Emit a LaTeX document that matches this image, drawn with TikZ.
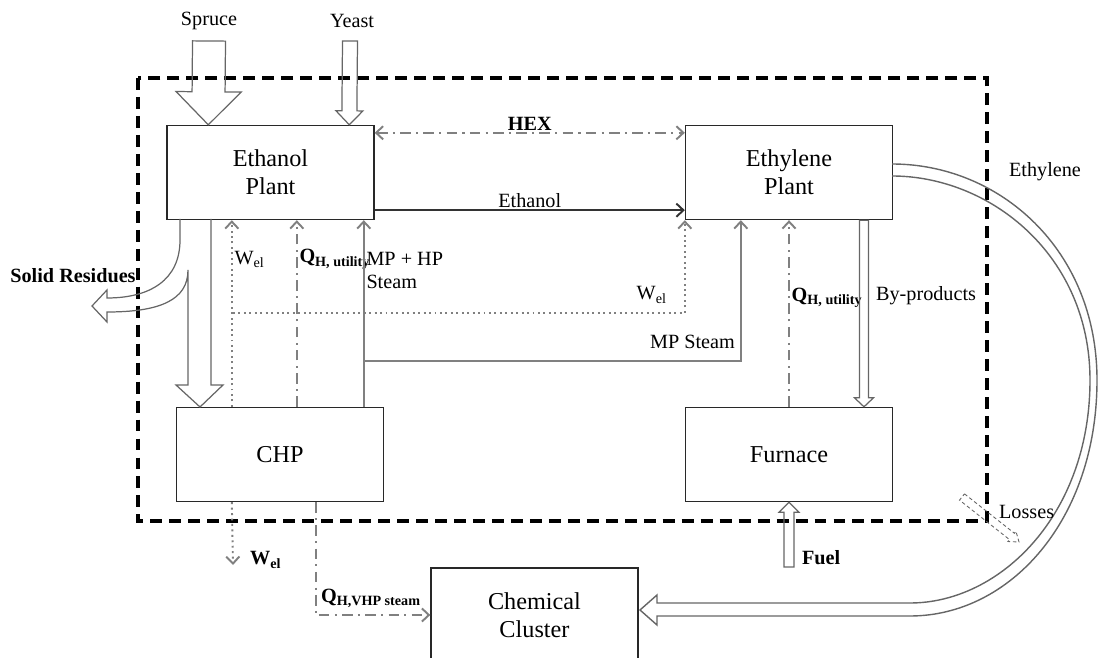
\documentclass[tikz,border=0pt]{standalone}
\usepackage{fontspec}
\setmainfont{Liberation Serif}
\usetikzlibrary{arrows.meta,calc,positioning}
\definecolor{flowgray}{RGB}{128,128,128}
\definecolor{boxline}{RGB}{40,40,40}

% outlined block arrow: [opts]{from}{to}{shaft half width}{head half width}{head length}
\newcommand{\fatarrow}[6][]{%
  \coordinate (fa) at (#2);
  \coordinate (fb) at (#3);
  \coordinate (fh) at ($(fb)!#6!(fa)$);
  \draw[fat,#1] ($(fa)!#4!90:(fb)$) -- ($(fh)!#4!90:(fb)$) -- ($(fh)!#5!90:(fb)$) -- (fb)
    -- ($(fh)!#5!-90:(fb)$) -- ($(fh)!#4!-90:(fb)$) -- ($(fa)!#4!-90:(fb)$) -- cycle;
}

\begin{document}
\begin{tikzpicture}[x=0.02cm,y=-0.02cm,
  >={Straight Barb[length=4pt,width=7.5pt]},
  unit/.style={draw=boxline,line width=0.8pt,minimum width=4.14cm,minimum height=1.88cm,align=center,font=\fontsize{13.8}{16}\selectfont},
  lbl/.style={inner sep=1pt,text=black,font=\fontsize{11.5}{13.5}\selectfont},
  wline/.style={flowgray,line width=1.1pt,dotted},
  qline/.style={flowgray,line width=1.1pt,dash pattern=on 6pt off 3pt on 1.2pt off 3pt},
  sline/.style={flowgray,line width=1.1pt},
  fat/.style={draw=black!60,line width=0.7pt}]
\useasboundingbox (0,0) rectangle (1099,658);

% system boundary
\draw[line width=2pt,dash pattern=on 6.8pt off 4pt] (138,78) rectangle (987,521);

\node[unit] (eth) at (270.5,172.5) {Ethanol\\Plant};
\node[unit] (ethy) at (789,172.5) {Ethylene\\Plant};
\node[unit] (chp) at (280,454.5) {CHP};
\node[unit] (furn) at (789,454.5) {Furnace};
\node[unit] (cc) at (534.5,615) {Chemical\\Cluster};

% feeds
\node[lbl] (spr) at (209,21) {Spruce};
\node[lbl] (yst) at (352,21) {Yeast};
\coordinate (sprtail) at (209,41);
\coordinate (ysttail) at (350,41);
\fatarrow{sprtail}{[xshift=0.84cm]eth.north west}{0.33cm}{0.65cm}{0.66cm}
\fatarrow{ysttail}{[xshift=3.66cm]eth.north west}{0.15cm}{0.27cm}{0.28cm}

\draw[qline,<->] ([yshift=-0.16cm]eth.north east) -- ([yshift=-0.16cm]ethy.north west) node[midway,above,lbl] {\textbf{HEX}};
\draw[black!80,line width=1.1pt,->] ([yshift=0.2cm]eth.south east) -- ([yshift=0.2cm]ethy.south west) node[midway,above,lbl] {Ethanol};

% solid residues and residues to CHP
\draw[fat] (180,219) -- (180,240) .. controls (180,280) and (150,298) .. (107,298) -- (107,290) -- (92,306) -- (107,322) -- (107,312)
  .. controls (160,312) and (188,300) .. (188,270) -- (188,385) -- (176,385) -- (200,407) -- (223,385) -- (211,385) -- (211,219);
\node[lbl] (res) at (73,276) {\textbf{Solid Residues}};

% utilities from CHP
\coordinate (w1) at ([xshift=1.12cm]chp.north west);
\coordinate (w2) at (233,313);
\coordinate (q1) at ([xshift=2.42cm]chp.north west);
\coordinate (s1) at ([xshift=3.76cm]chp.north west);
\coordinate (s2) at (365,361);
\draw[wline,->] (w1) -- (w1 |- eth.south) node[pos=0.79,right,lbl] {W\textsubscript{el}};
\draw[wline,->] (w2) -| (ethy.south west);
\node[lbl,anchor=east] (welB) at (669,295) {W\textsubscript{el}};
\draw[qline,->] (q1) -- (q1 |- eth.south) node[pos=0.79,right,lbl] {\textbf{Q\textsubscript{H, utility}}};
\draw[sline,->] (s1) -- (s1 |- eth.south) node[pos=0.73,right,lbl,align=left] {MP + HP\\Steam};
\draw[sline,->] (s2) -| ([xshift=1.12cm]ethy.south west);
\node[lbl,anchor=east] (mps) at (737,342) {MP Steam};

% ethylene plant and furnace
\draw[qline,->] (furn.north) -- (ethy.south) node[pos=0.585,right,lbl] {\textbf{Q\textsubscript{H, utility}}};
\fatarrow{[xshift=1.5cm]ethy.south}{[xshift=1.5cm]furn.north}{0.09cm}{0.19cm}{0.18cm}
\node[lbl,anchor=west] (byp) at (874,296) {By-products};
\coordinate (fuelsrc) at (789,567);
\fatarrow{fuelsrc}{furn.south}{0.1cm}{0.2cm}{0.2cm}
\node[lbl,anchor=west] (fuel) at (800,558) {\textbf{Fuel}};

% exports
\coordinate (w3) at ([xshift=1.12cm]chp.south west);
\coordinate (welout) at (233,565);
\draw[wline,->] (w3) -- (welout);
\node[lbl,anchor=west] (welC) at (248,560) {\textbf{W\textsubscript{el}}};
\coordinate (q3) at ([xshift=2.8cm]chp.south west);
\draw[qline,->] (q3) |- (cc.west);
\node[lbl,anchor=west] (qvhp) at (319,598) {\textbf{Q\textsubscript{H,VHP steam}}};

\draw[fat,line width=0.8pt] (892,164) .. controls (1000,164) and (1097,250) .. (1097,380) .. controls (1097,520) and (1010,616) .. (910,616) -- (657,616)
  -- (657,625) -- (640,610) -- (657,595) -- (657,603) -- (910,603) .. controls (1000,603) and (1090,515) .. (1090,380)
  .. controls (1090,255) and (990,176) .. (892,176);
\node[lbl] (ethyout) at (1045,172) {Ethylene};

\coordinate (losstail) at (962,497);
\coordinate (losstip) at (1019,542);
\fatarrow[dash pattern=on 2pt off 1.5pt,line width=0.5pt]{losstail}{losstip}{0.08cm}{0.13cm}{0.18cm}
\node[lbl,anchor=west] (loss) at (997,512) {Losses};
\end{tikzpicture}
\end{document}
